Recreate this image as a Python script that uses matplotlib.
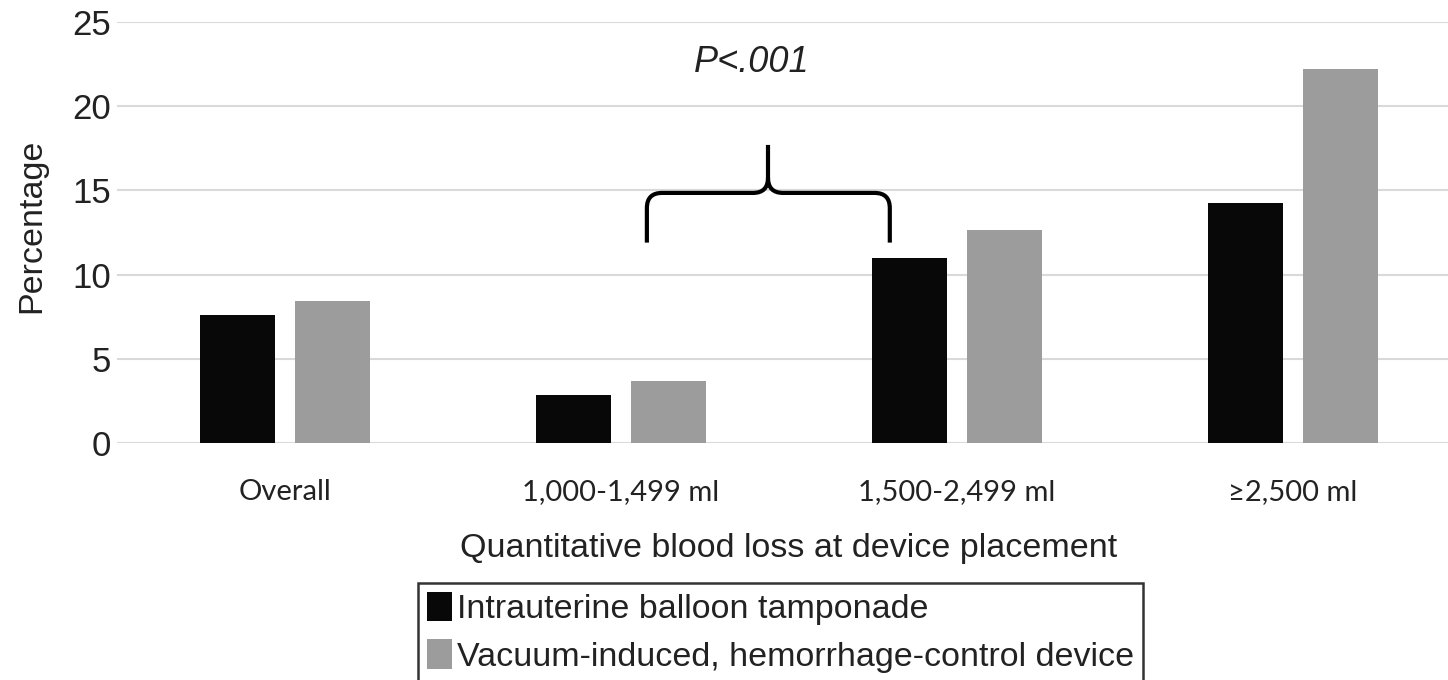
import numpy as np
import matplotlib
matplotlib.use('Agg')
import matplotlib.pyplot as plt
from matplotlib.path import Path
from matplotlib.patches import PathPatch

# Data
categories = ['Overall', '1,000-1,499 ml', '1,500-2,499 ml', '\u22652,500 ml']
balloon = [7.6, 2.85, 11.0, 14.25]
vacuum = [8.45, 3.7, 12.65, 22.2]
series_names = ['Intrauterine balloon tamponade',
                'Vacuum-induced, hemorrhage-control device']
yticks = [0, 5, 10, 15, 20, 25]

plt.rcParams['font.family'] = ['Liberation Sans', 'DejaVu Sans']

fig = plt.figure(figsize=(14.48, 6.8), dpi=100)
ax = fig.add_axes([117 / 1448, 1 - 443 / 680, 1344 / 1448, (443 - 22) / 680])

x = np.arange(len(categories))
w = 0.223
off = 0.142
b1 = ax.bar(x - off, balloon, w, color='#080808', zorder=3)
b2 = ax.bar(x + off, vacuum, w, color='#9c9c9c', zorder=3)

ax.set_xlim(-0.5, len(categories) - 0.5)
ax.set_ylim(0, 25)
ax.set_yticks(yticks)
ax.yaxis.grid(True, color='#d9d9d9', linewidth=1.5, zorder=0)
ax.set_axisbelow(True)
for s in ax.spines.values():
    s.set_visible(False)
ax.tick_params(axis='both', length=0)
ax.tick_params(axis='y', labelsize=25, pad=4, colors='#222222')
ax.set_xticks(x)
ax.set_xticklabels(categories, fontsize=21, family=['Lato', 'DejaVu Sans'], color='#222222')
ax.tick_params(axis='x', pad=26)
ax.set_ylabel('Percentage', fontsize=24.5, labelpad=18, color='#222222', y=0.517)
ax.set_xlabel('Quantitative blood loss at device placement', fontsize=24.5,
              labelpad=20, color='#222222')

# brace over the two middle groups
xl, xc, xr = 1.077, 1.4375, 1.80
yb, ym, yt = 11.9, 14.85, 17.7
rx, ry = 0.045, 0.9
verts = [(xl, yb), (xl, ym - ry),
         (xl, ym), (xl + rx, ym),
         (xc - rx, ym),
         (xc, ym), (xc, ym + ry),
         (xc, yt),
         (xc, ym + ry),
         (xc, ym), (xc + rx, ym),
         (xr - rx, ym),
         (xr, ym), (xr, ym - ry),
         (xr, yb)]
codes = [Path.MOVETO, Path.LINETO,
         Path.CURVE3, Path.CURVE3,
         Path.LINETO,
         Path.CURVE3, Path.CURVE3,
         Path.LINETO,
         Path.MOVETO,
         Path.CURVE3, Path.CURVE3,
         Path.LINETO,
         Path.CURVE3, Path.CURVE3,
         Path.LINETO]
ax.add_patch(PathPatch(Path(verts, codes), fill=False, lw=3, color='black',
                       capstyle='butt', joinstyle='round', zorder=4))
ax.text(xc - 0.048, 22.6, 'P<.001', fontsize=26, style='italic', ha='center', va='center',
        color='#222222')

leg = fig.legend([b1, b2], series_names, loc='upper left',
                 bbox_to_anchor=(418 / 1448, 1 - 583 / 680),
                 fontsize=24.5, frameon=True, fancybox=False, handlelength=0.75,
                 handleheight=0.95, handletextpad=0.15, labelspacing=0.42,
                 borderpad=0.25, borderaxespad=0)
leg.get_frame().set_edgecolor('black')
leg.get_frame().set_linewidth(1.8)
for t in leg.get_texts():
    t.set_color('#222222')

fig.savefig('out.png', dpi=100)
